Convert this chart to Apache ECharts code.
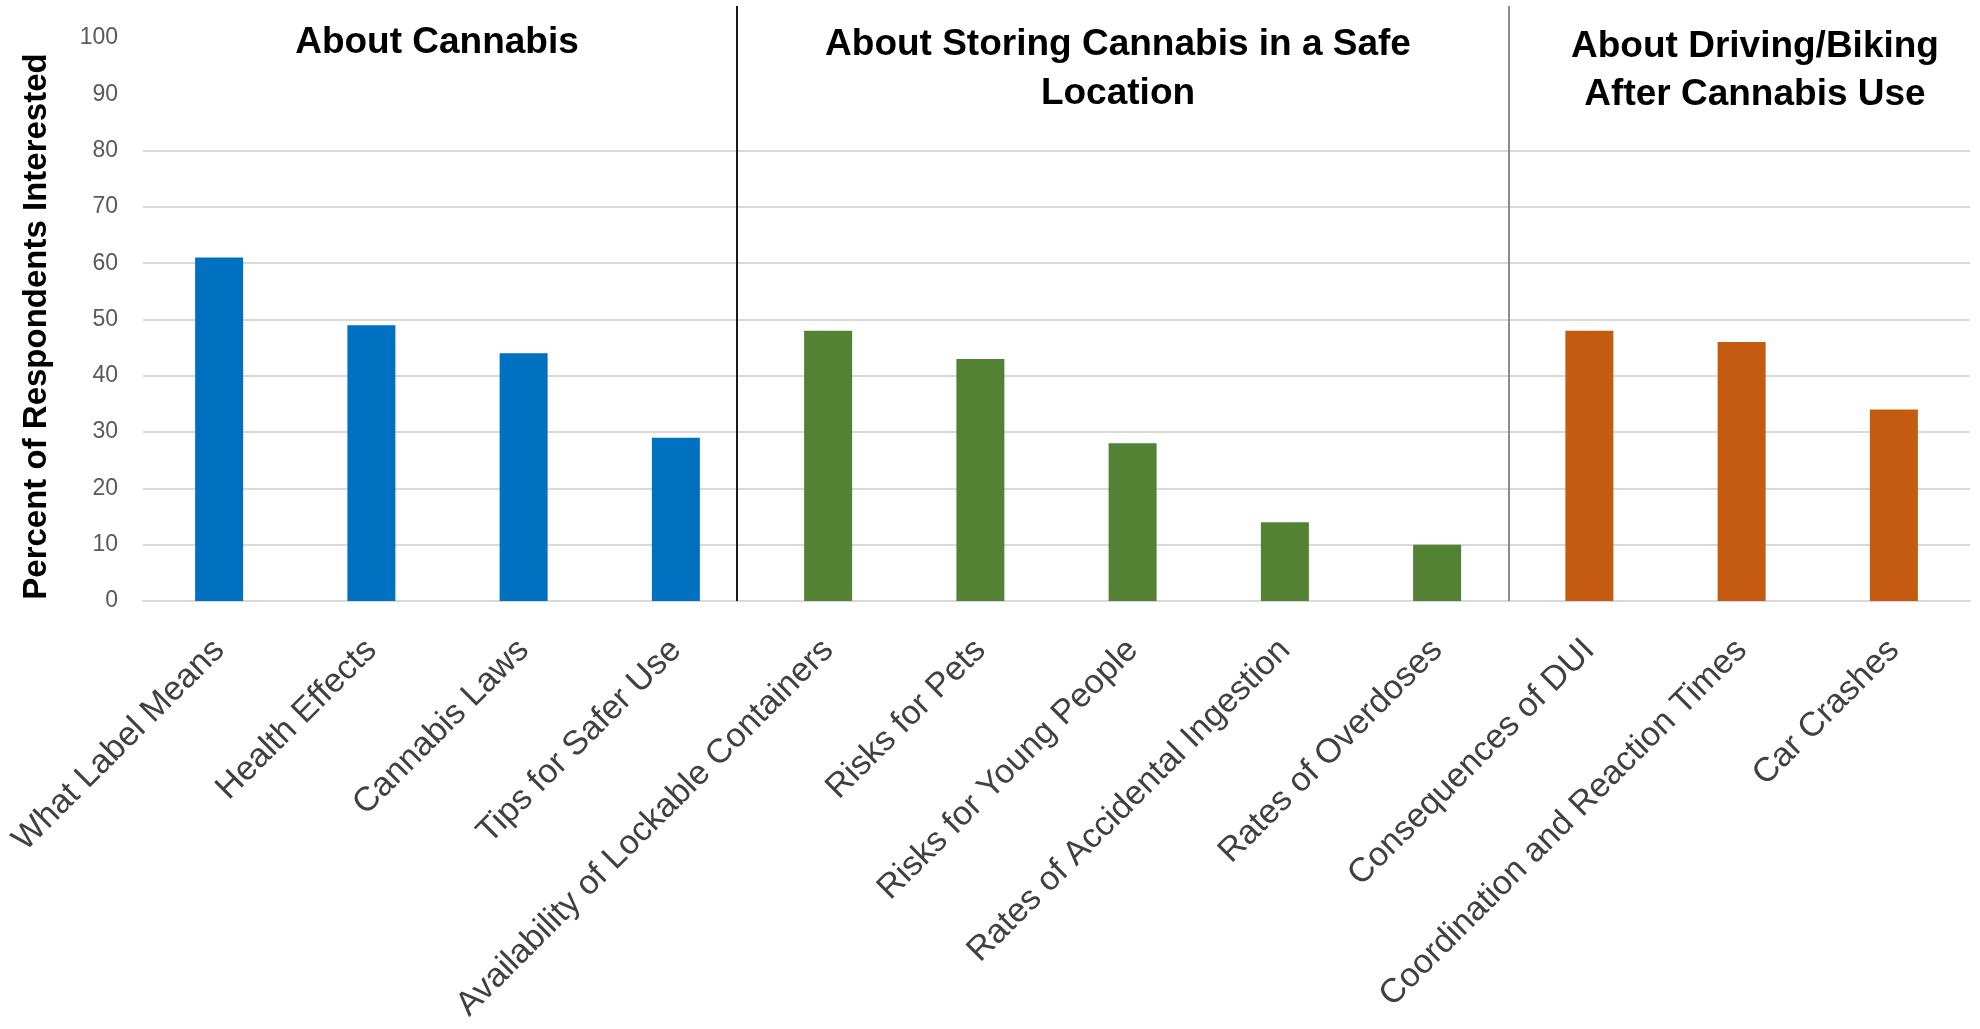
<!DOCTYPE html>
<html>
<head>
<meta charset="utf-8">
<script src="https://cdn.jsdelivr.net/npm/echarts@6/dist/echarts.min.js"></script>
<style>
  html, body { margin: 0; padding: 0; background: #ffffff; }
  #chart { width: 1980px; height: 1029px; }
</style>
</head>
<body>
<div id="chart"></div>
<script>
// Topics respondents were asked about
const categories = [
  'What Label Means', 'Health Effects', 'Cannabis Laws', 'Tips for Safer Use',
  'Availability of Lockable Containers', 'Risks for Pets', 'Risks for Young People',
  'Rates of Accidental Ingestion', 'Rates of Overdoses',
  'Consequences of DUI', 'Coordination and Reaction Times', 'Car Crashes'
];
// Percent of respondents interested in each topic
const values = [61, 49, 44, 29, 48, 43, 28, 14, 10, 48, 46, 34];
// Which topic group each category belongs to
const groupOf = [0, 0, 0, 0, 1, 1, 1, 1, 1, 2, 2, 2];
const groupColors = ['#0070C0', '#548235', '#C55A11'];
const groupTitles = [
  'About Cannabis',
  'About Storing Cannabis in a Safe\nLocation',
  'About Driving/Biking\nAfter Cannabis Use'
];
const yTicks = [0, 10, 20, 30, 40, 50, 60, 70, 80, 90, 100];

const FONT = "'Liberation Sans', Arial, sans-serif";

const barData = values.map((v, i) => ({
  value: v,
  itemStyle: { color: groupColors[groupOf[i]] }
}));

// Gridlines are drawn up to 80; the band above holds the group headings
const gridColors = yTicks.map(t => (t <= 80 ? '#d9d9d9' : 'rgba(0,0,0,0)'));

const chart = echarts.init(document.getElementById('chart'), null, { renderer: 'canvas' });

chart.setOption({
  animation: false,
  backgroundColor: '#ffffff',
  grid: { left: 143, right: 10, top: 38, bottom: 428, containLabel: false },
  xAxis: {
    type: 'category',
    data: categories,
    axisLine: { show: true, lineStyle: { color: '#d9d9d9', width: 2 } },
    axisTick: { show: false },
    axisLabel: {
      interval: 0,
      rotate: 45,
      margin: 44,
      fontFamily: FONT,
      fontSize: 34,
      color: '#404040'
    }
  },
  yAxis: {
    type: 'value',
    min: 0,
    max: 100,
    interval: 10,
    name: 'Percent of Respondents Interested',
    nameLocation: 'middle',
    nameRotate: 90,
    nameGap: 90,
    nameTextStyle: {
      fontFamily: FONT,
      fontSize: 33,
      fontWeight: 'bold',
      color: '#000000',
      padding: [0, 14, 0, 0]
    },
    axisLine: { show: false },
    axisTick: { show: false },
    axisLabel: {
      margin: 25,
      fontFamily: FONT,
      fontSize: 23,
      color: '#595959'
    },
    splitLine: { show: true, lineStyle: { color: gridColors, width: 2 } }
  },
  series: [{
    type: 'bar',
    data: barData,
    barWidth: 48
  }],
  graphic: [
    // group headings
    {
      type: 'text', x: 437, y: 43, z: 10,
      style: {
        text: groupTitles[0], font: 'bold 37px ' + FONT, fill: '#000000',
        textAlign: 'center', textVerticalAlign: 'middle', lineHeight: 49
      }
    },
    {
      type: 'text', x: 1118, y: 69, z: 10,
      style: {
        text: groupTitles[1], font: 'bold 37px ' + FONT, fill: '#000000',
        textAlign: 'center', textVerticalAlign: 'middle', lineHeight: 49
      }
    },
    {
      type: 'text', x: 1755, y: 71, z: 10,
      style: {
        text: groupTitles[2], font: 'bold 37px ' + FONT, fill: '#000000',
        textAlign: 'center', textVerticalAlign: 'middle', lineHeight: 48
      }
    },
    // group dividers
    {
      type: 'line', z: 10,
      shape: { x1: 737, y1: 6, x2: 737, y2: 601 },
      style: { stroke: '#1a1a1a', lineWidth: 2 }
    },
    {
      type: 'line', z: 10,
      shape: { x1: 1509, y1: 6, x2: 1509, y2: 601 },
      style: { stroke: '#8c8c8c', lineWidth: 2 }
    }
  ]
});
</script>
</body>
</html>
